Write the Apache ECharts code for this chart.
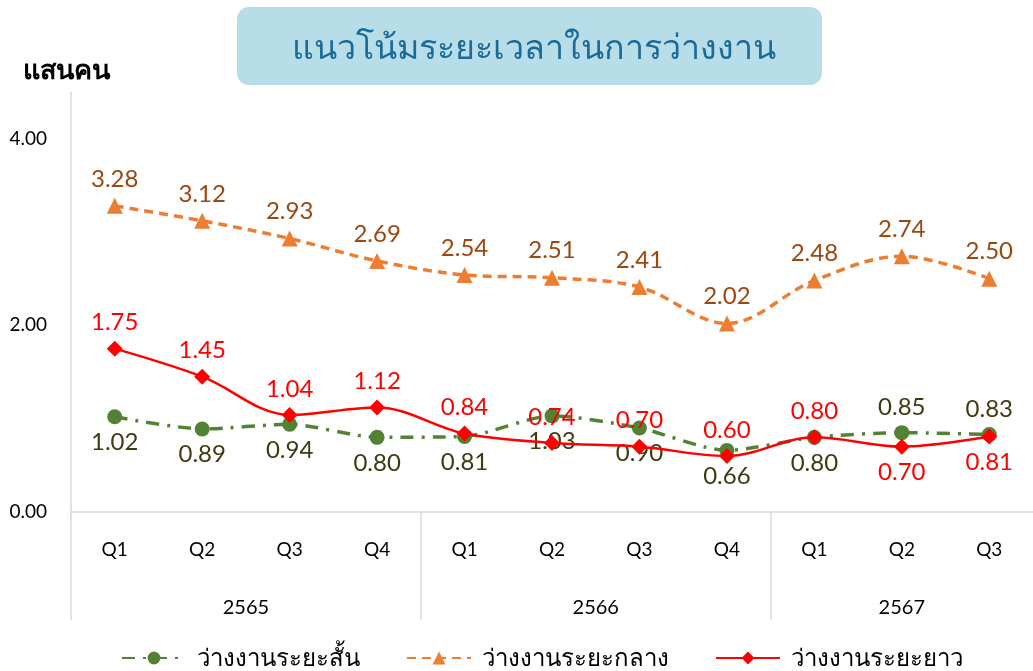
<!DOCTYPE html>
<html>
<head>
<meta charset="utf-8">
<script src="https://cdn.jsdelivr.net/npm/echarts@6/dist/echarts.min.js"></script>
<style>
html,body{margin:0;padding:0;background:#fff;}
#c{width:1033px;height:671px;}
</style>
</head>
<body>
<div id="c"></div>
<script>
const chartTitle = 'แนวโน้มระยะเวลาในการว่างงาน';
const unitLabel = 'แสนคน';
const quarters = ['Q1','Q2','Q3','Q4','Q1','Q2','Q3','Q4','Q1','Q2','Q3'];
const years = ['2565','2566','2567'];
const yearCounts = [4, 4, 3];
const seriesNames = ['ว่างงานระยะสั้น','ว่างงานระยะกลาง','ว่างงานระยะยาว'];
const shortTerm = [1.02,0.89,0.94,0.80,0.81,1.03,0.90,0.66,0.80,0.85,0.83];
const midTerm   = [3.28,3.12,2.93,2.69,2.54,2.51,2.41,2.02,2.48,2.74,2.50];
const longTerm  = [1.75,1.45,1.04,1.12,0.84,0.74,0.70,0.60,0.80,0.70,0.81];
const yTicks = [0, 2, 4];

// year group boundaries and centers in category units
const yearBounds = [0];
yearCounts.forEach(c => yearBounds.push(yearBounds[yearBounds.length-1] + c));
const yearCenters = years.map((y,i) => (yearBounds[i] + yearBounds[i+1]) / 2);

const FONT = 'Lato, "Noto Sans", "DejaVu Sans", sans-serif';
const shortAbove = [9, 10];
const longBelow = [9, 10];

function withPos(arr, flipIdx, normal, flipped){
  return arr.map((v,i) => ({value: v, label: {position: flipIdx.includes(i) ? flipped : normal}}));
}

const chart = echarts.init(document.getElementById('c'), null, {renderer:'canvas'});
chart.setOption({
  animation: false,
  textStyle: {fontFamily: FONT},
  graphic: [
    {type:'rect', shape:{x:237, y:7, width:585, height:78, r:12}, style:{fill:'#b7dde8'}},
    {type:'text', x:534, y:48, style:{text: chartTitle, fill:'#1b6b98', font:'34px ' + FONT, textAlign:'center', textVerticalAlign:'middle'}}
  ],
  grid: {left: 71, right: 0, top: 92, bottom: 159, containLabel: false},
  legend: {
    left: 116, top: 641, itemGap: 46, itemWidth: 64, itemHeight: 16,
    textStyle: {fontSize: 24, color: '#000', fontFamily: FONT, padding: [0, 0, 0, 6]},
    data: seriesNames
  },
  xAxis: [
    {
      type: 'category', data: quarters, boundaryGap: true,
      axisLine: {lineStyle: {color: '#d9d9d9', width: 1.5}},
      axisTick: {show: false},
      axisLabel: {color: '#000', fontSize: 19, margin: 28},
      splitLine: {show: false}
    },
    {
      type: 'value', min: 0, max: quarters.length, position: 'bottom',
      axisLine: {show: false},
      axisTick: {show: true, length: 108, customValues: yearBounds.slice(0, -1), lineStyle: {color: '#d9d9d9', width: 1.5}},
      axisLabel: {color: '#000', fontSize: 20, margin: 86, customValues: yearCenters,
        formatter: v => { const i = yearCenters.findIndex(c => Math.abs(c - v) < 1e-6); return i >= 0 ? years[i] : ''; }},
      splitLine: {show: false}
    }
  ],
  yAxis: {
    type: 'value', min: 0, max: 4.5, interval: 2,
    name: unitLabel, nameLocation: 'end', nameGap: 8,
    nameTextStyle: {color: '#000', fontSize: 27, fontWeight: 'bold', align: 'center', padding: [0, 10, 0, 0]},
    axisLine: {show: true, lineStyle: {color: '#d9d9d9', width: 1.5}},
    axisTick: {show: false},
    splitLine: {show: false},
    axisLabel: {color: '#000', fontSize: 19, margin: 24, showMaxLabel: false,
      formatter: v => yTicks.includes(v) ? v.toFixed(2) : ''}
  },
  series: [
    {
      name: seriesNames[0], type: 'line', smooth: 0.25,
      data: withPos(shortTerm, shortAbove, 'bottom', 'top'),
      symbol: 'circle', symbolSize: 15,
      itemStyle: {color: '#548235'},
      lineStyle: {color: '#548235', width: 3.5, type: [13, 8, 3, 8]},
      label: {show: true, fontSize: 24, color: '#3f3b10', distance: 6, formatter: p => p.value.toFixed(2)},
      z: 2
    },
    {
      name: seriesNames[1], type: 'line', smooth: 0.35,
      data: midTerm,
      symbol: 'triangle', symbolSize: 16,
      itemStyle: {color: '#ed7d31'},
      lineStyle: {color: '#ed7d31', width: 3.5, type: [9, 6]},
      label: {show: true, position: 'top', fontSize: 24, color: '#9c4610', distance: 7, formatter: p => p.value.toFixed(2)},
      z: 3
    },
    {
      name: seriesNames[2], type: 'line', smooth: 0.35,
      data: withPos(longTerm, longBelow, 'top', 'bottom'),
      symbol: 'diamond', symbolSize: 16,
      itemStyle: {color: '#ff0000'},
      lineStyle: {color: '#ff0000', width: 2.5},
      label: {show: true, fontSize: 24, color: '#ff0000', distance: 6, formatter: p => p.value.toFixed(2)},
      z: 4
    }
  ]
});
</script>
</body>
</html>
